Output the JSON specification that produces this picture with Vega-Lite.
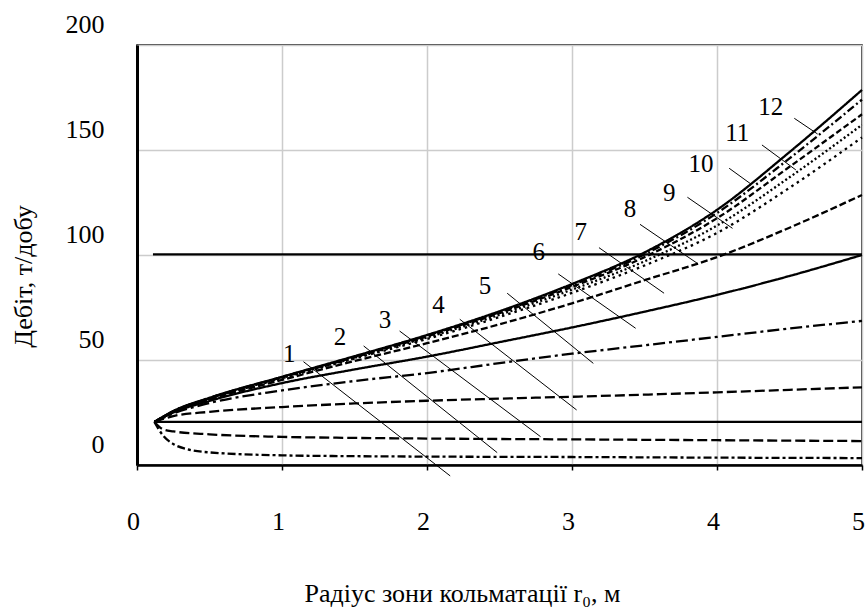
{
  "$schema": "https://vega.github.io/schema/vega-lite/v6.json",
  "autosize": {"type": "none"},
  "padding": {"left": 137, "top": 45, "right": 4, "bottom": 145},
  "width": 725,
  "height": 420,
  "background": "white",
  "config": {
    "view": {"stroke": "black", "strokeWidth": 1.5},
    "font": "Liberation Serif"
  },
  "datasets": {
    "curves": [
      {"s": "c1", "x": 0.12, "y": 20.5}, {"s": "c1", "x": 0.18, "y": 14}, {"s": "c1", "x": 0.25, "y": 10}, {"s": "c1", "x": 0.35, "y": 7.5}, {"s": "c1", "x": 0.5, "y": 6}, {"s": "c1", "x": 1, "y": 4.6}, {"s": "c1", "x": 1.5, "y": 4.2}, {"s": "c1", "x": 2, "y": 4}, {"s": "c1", "x": 3, "y": 3.8}, {"s": "c1", "x": 4, "y": 3.5}, {"s": "c1", "x": 5, "y": 3.3},
      {"s": "c2", "x": 0.12, "y": 20.5}, {"s": "c2", "x": 0.18, "y": 17}, {"s": "c2", "x": 0.25, "y": 16}, {"s": "c2", "x": 0.5, "y": 14.6}, {"s": "c2", "x": 1, "y": 13.4}, {"s": "c2", "x": 1.5, "y": 12.9}, {"s": "c2", "x": 2, "y": 12.6}, {"s": "c2", "x": 3, "y": 12.2}, {"s": "c2", "x": 4, "y": 11.8}, {"s": "c2", "x": 5, "y": 11.4},
      {"s": "c3", "x": 0.12, "y": 20.5}, {"s": "c3", "x": 5, "y": 20.5},
      {"s": "c4", "x": 0.12, "y": 20.5}, {"s": "c4", "x": 0.25, "y": 23.3}, {"s": "c4", "x": 0.5, "y": 25.3}, {"s": "c4", "x": 1, "y": 27.6}, {"s": "c4", "x": 1.5, "y": 29.3}, {"s": "c4", "x": 2, "y": 30.6}, {"s": "c4", "x": 2.5, "y": 31.6}, {"s": "c4", "x": 3, "y": 32.5}, {"s": "c4", "x": 3.5, "y": 33.5}, {"s": "c4", "x": 4, "y": 34.6}, {"s": "c4", "x": 4.5, "y": 35.8}, {"s": "c4", "x": 5, "y": 37},
      {"s": "c5", "x": 0.12, "y": 20.5}, {"s": "c5", "x": 0.25, "y": 24.5}, {"s": "c5", "x": 0.5, "y": 29.5}, {"s": "c5", "x": 1, "y": 35.5}, {"s": "c5", "x": 1.5, "y": 40}, {"s": "c5", "x": 2, "y": 43.8}, {"s": "c5", "x": 2.5, "y": 48.5}, {"s": "c5", "x": 3, "y": 53}, {"s": "c5", "x": 3.5, "y": 57}, {"s": "c5", "x": 4, "y": 61}, {"s": "c5", "x": 4.5, "y": 65}, {"s": "c5", "x": 5, "y": 68.6},
      {"s": "c6", "x": 0.12, "y": 20.5}, {"s": "c6", "x": 0.25, "y": 25}, {"s": "c6", "x": 0.5, "y": 30.5}, {"s": "c6", "x": 1, "y": 39}, {"s": "c6", "x": 1.5, "y": 45.5}, {"s": "c6", "x": 2, "y": 51.6}, {"s": "c6", "x": 2.5, "y": 58.5}, {"s": "c6", "x": 3, "y": 65.5}, {"s": "c6", "x": 3.5, "y": 73}, {"s": "c6", "x": 4, "y": 81}, {"s": "c6", "x": 4.5, "y": 90}, {"s": "c6", "x": 5, "y": 100},
      {"s": "c7", "x": 0.12, "y": 20.5}, {"s": "c7", "x": 0.25, "y": 25.2}, {"s": "c7", "x": 0.5, "y": 31.2}, {"s": "c7", "x": 1, "y": 40.5}, {"s": "c7", "x": 1.5, "y": 49.5}, {"s": "c7", "x": 2, "y": 58}, {"s": "c7", "x": 2.5, "y": 67}, {"s": "c7", "x": 3, "y": 77}, {"s": "c7", "x": 3.5, "y": 88}, {"s": "c7", "x": 4, "y": 99}, {"s": "c7", "x": 4.5, "y": 113}, {"s": "c7", "x": 5, "y": 128.6},
      {"s": "c8", "x": 0.12, "y": 20.5}, {"s": "c8", "x": 0.25, "y": 25.4}, {"s": "c8", "x": 0.5, "y": 31.6}, {"s": "c8", "x": 1, "y": 41.3}, {"s": "c8", "x": 1.5, "y": 50.7}, {"s": "c8", "x": 2, "y": 60}, {"s": "c8", "x": 2.5, "y": 70.5}, {"s": "c8", "x": 3, "y": 82}, {"s": "c8", "x": 3.5, "y": 95}, {"s": "c8", "x": 4, "y": 110.5}, {"s": "c8", "x": 4.5, "y": 132}, {"s": "c8", "x": 5, "y": 156},
      {"s": "c9", "x": 0.12, "y": 20.5}, {"s": "c9", "x": 0.25, "y": 25.5}, {"s": "c9", "x": 0.5, "y": 31.7}, {"s": "c9", "x": 1, "y": 41.5}, {"s": "c9", "x": 1.5, "y": 51}, {"s": "c9", "x": 2, "y": 60.7}, {"s": "c9", "x": 2.5, "y": 71.5}, {"s": "c9", "x": 3, "y": 83.5}, {"s": "c9", "x": 3.5, "y": 97}, {"s": "c9", "x": 4, "y": 114}, {"s": "c9", "x": 4.5, "y": 137}, {"s": "c9", "x": 5, "y": 162},
      {"s": "c10", "x": 0.12, "y": 20.5}, {"s": "c10", "x": 0.25, "y": 25.5}, {"s": "c10", "x": 0.5, "y": 31.8}, {"s": "c10", "x": 1, "y": 41.7}, {"s": "c10", "x": 1.5, "y": 51.3}, {"s": "c10", "x": 2, "y": 61.2}, {"s": "c10", "x": 2.5, "y": 72.3}, {"s": "c10", "x": 3, "y": 84.8}, {"s": "c10", "x": 3.5, "y": 99}, {"s": "c10", "x": 4, "y": 117.5}, {"s": "c10", "x": 4.5, "y": 142}, {"s": "c10", "x": 5, "y": 167},
      {"s": "c11", "x": 0.12, "y": 20.5}, {"s": "c11", "x": 0.25, "y": 25.6}, {"s": "c11", "x": 0.5, "y": 31.9}, {"s": "c11", "x": 1, "y": 41.9}, {"s": "c11", "x": 1.5, "y": 51.6}, {"s": "c11", "x": 2, "y": 61.6}, {"s": "c11", "x": 2.5, "y": 72.8}, {"s": "c11", "x": 3, "y": 85.6}, {"s": "c11", "x": 3.5, "y": 100.3}, {"s": "c11", "x": 4, "y": 120}, {"s": "c11", "x": 4.5, "y": 146}, {"s": "c11", "x": 5, "y": 174},
      {"s": "c12", "x": 0.12, "y": 20.5}, {"s": "c12", "x": 0.25, "y": 25.7}, {"s": "c12", "x": 0.5, "y": 32}, {"s": "c12", "x": 1, "y": 42}, {"s": "c12", "x": 1.5, "y": 51.8}, {"s": "c12", "x": 2, "y": 61.9}, {"s": "c12", "x": 2.5, "y": 73.2}, {"s": "c12", "x": 3, "y": 86.2}, {"s": "c12", "x": 3.5, "y": 101.2}, {"s": "c12", "x": 4, "y": 121.5}, {"s": "c12", "x": 4.5, "y": 149}, {"s": "c12", "x": 5, "y": 178.6},
      {"s": "ref", "x": 0.11, "y": 100.3}, {"s": "ref", "x": 5, "y": 100.3}
    ],
    "leaders": [
      {"x": 1.148, "y": 49.2, "x2": 2.16, "y2": -5.2},
      {"x": 1.563, "y": 56.7, "x2": 2.484, "y2": 5.9},
      {"x": 1.811, "y": 63.8, "x2": 2.783, "y2": 13.5},
      {"x": 2.226, "y": 69.4, "x2": 3.032, "y2": 26.2},
      {"x": 2.553, "y": 81.8, "x2": 3.147, "y2": 48.4},
      {"x": 2.905, "y": 91, "x2": 3.439, "y2": 65.1},
      {"x": 3.186, "y": 103.5, "x2": 3.635, "y2": 81.8},
      {"x": 3.469, "y": 114.6, "x2": 3.865, "y2": 96},
      {"x": 3.796, "y": 127.5, "x2": 4.107, "y2": 112.7},
      {"x": 4.084, "y": 141.3, "x2": 4.23, "y2": 134},
      {"x": 4.31, "y": 152.4, "x2": 4.544, "y2": 140.5},
      {"x": 4.533, "y": 165.1, "x2": 4.694, "y2": 157.6}
    ],
    "labels": [
      {"t": "1", "x": 1.05, "y": 52.8},
      {"t": "2", "x": 1.4, "y": 60.8},
      {"t": "3", "x": 1.71, "y": 69},
      {"t": "4", "x": 2.08, "y": 76.2},
      {"t": "5", "x": 2.4, "y": 85.2},
      {"t": "6", "x": 2.77, "y": 101.6},
      {"t": "7", "x": 3.06, "y": 111.1},
      {"t": "8", "x": 3.4, "y": 121.7},
      {"t": "9", "x": 3.67, "y": 129.4},
      {"t": "10", "x": 3.89, "y": 143.3},
      {"t": "11", "x": 4.14, "y": 158},
      {"t": "12", "x": 4.37, "y": 170.6}
    ]
  },
  "layer": [
    {
      "data": {"name": "curves"},
      "mark": {"type": "line", "color": "black", "strokeWidth": 2.3, "interpolate": "monotone"},
      "encoding": {
        "x": {
          "field": "x", "type": "quantitative",
          "scale": {"domain": [0, 5], "nice": false, "zero": false},
          "axis": {
            "values": [0, 1, 2, 3, 4, 5], "format": "d",
            "grid": true, "gridColor": "#cccccc", "gridWidth": 1.5,
            "domainColor": "black", "domainWidth": 2.5,
            "ticks": true, "tickColor": "black", "tickWidth": 1.5, "tickSize": 5,
            "labelFont": "Liberation Serif", "labelFontSize": 26, "labelColor": "black",
            "labelPadding": 38, "labelOffset": -4, "labelFlush": false, "labelOverlap": false, "labelBound": false,
            "title": "Радіус зони кольматації r₀, м",
            "titleFont": "Liberation Serif", "titleFontSize": 26, "titleFontWeight": "normal", "titleColor": "black",
            "titleX": 325, "titleY": 136, "titleAlign": "center", "titleBaseline": "alphabetic"
          }
        },
        "y": {
          "field": "y", "type": "quantitative",
          "scale": {"domain": [0, 200], "nice": false, "zero": false},
          "axis": {
            "values": [0, 50, 100, 150, 200], "format": "d",
            "grid": true, "gridColor": "#cccccc", "gridWidth": 1.5,
            "domainColor": "black", "domainWidth": 3,
            "ticks": false,
            "labelFont": "Liberation Serif", "labelFontSize": 26, "labelColor": "black",
            "labelPadding": 33, "labelOffset": -21, "labelFlush": false, "labelOverlap": false, "labelBound": false,
            "title": "Дебіт, т/добу",
            "titleFont": "Liberation Serif", "titleFontSize": 26, "titleFontWeight": "normal", "titleColor": "black",
            "titleX": -114, "titleY": 231, "titleAlign": "center", "titleBaseline": "middle", "titleAngle": -90
          }
        },
        "detail": {"field": "s", "type": "nominal"},
        "strokeDash": {
          "field": "s", "type": "nominal", "legend": null,
          "scale": {
            "domain": ["c1", "c2", "c3", "c4", "c5", "c6", "c7", "c8", "c9", "c10", "c11", "c12", "ref"],
            "range": [[8, 3, 3, 3], [10, 4], [1, 0], [10, 4], [12, 4, 3, 4], [1, 0], [7, 3], [2.5, 4], [2, 2.5], [6, 3], [8, 3, 2, 3], [1, 0], [1, 0]]
          }
        }
      }
    },
    {
      "data": {"name": "leaders"},
      "mark": {"type": "rule", "color": "black", "strokeWidth": 1},
      "encoding": {
        "x": {"field": "x", "type": "quantitative"},
        "y": {"field": "y", "type": "quantitative"},
        "x2": {"field": "x2"},
        "y2": {"field": "y2"}
      }
    },
    {
      "data": {"name": "labels"},
      "mark": {"type": "text", "font": "Liberation Serif", "fontSize": 25, "color": "black", "align": "center", "baseline": "middle"},
      "encoding": {
        "x": {"field": "x", "type": "quantitative"},
        "y": {"field": "y", "type": "quantitative"},
        "text": {"field": "t", "type": "nominal"}
      }
    }
  ]
}
